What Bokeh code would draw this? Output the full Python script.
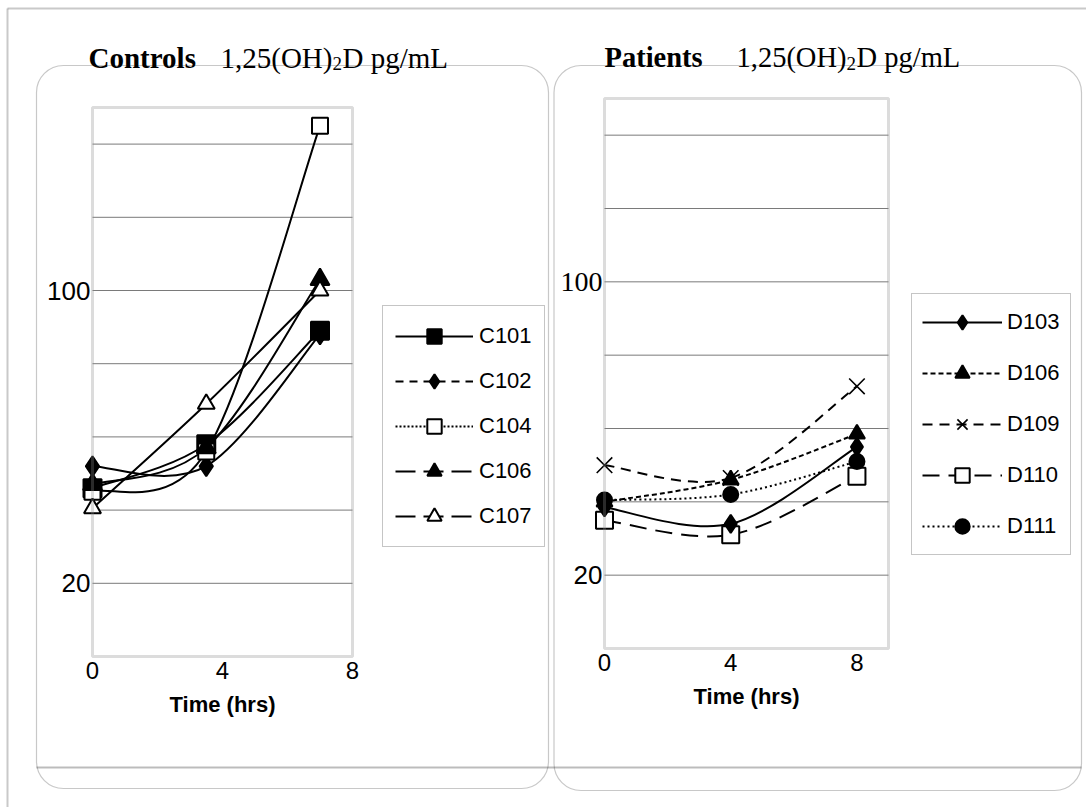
from bokeh.plotting import figure
from bokeh.models import (FixedTicker, Legend, LegendItem, BoxAnnotation, Label,
                          Range1d, ColumnDataSource, LinearAxis)
from bokeh.embed import file_html
from bokeh.resources import INLINE

SANS = "Liberation Sans"
SERIF = "Liberation Serif"
W, H = 1086, 807

# ---------------- data ----------------
control_times = [0, 3.5, 7]
patient_times = [0, 4, 8]
x_tick_values = [0, 4, 8]
y_label_values = [20, 100]
grid_values = [20, 40, 60, 80, 100, 120, 140]
y_min, y_max = 0, 150

c101 = [46, 58, 89]
c102 = [52, 52, 88]
c104 = [45, 56, 145]
c106 = [47, 57, 103]
c107 = [40.5, 69, 100]

d103 = [38.5, 34, 55]
d106 = [40, 46, 58.5]
d109 = [50, 46.5, 71.5]
d110 = [35, 31, 47]
d111 = [40.5, 42, 51]

control_names = ["C101", "C102", "C104", "C106", "C107"]
control_series = [c101, c102, c104, c106, c107]
patient_names = ["D103", "D106", "D109", "D110", "D111"]
patient_series = [d103, d106, d109, d110, d111]

# ---------------- styles ----------------
control_styles = [
    dict(marker="square", size=18, fill="black", legend_dash="solid"),
    dict(marker="diamond", size=20, fill="black", legend_dash="8 6"),
    dict(marker="square", size=16, fill="white", legend_dash="2 2"),
    dict(marker="triangle", size=19, fill="black", legend_dash="20 8"),
    dict(marker="triangle", size=17, fill="white", legend_dash="20 8"),
]
patient_styles = [
    dict(marker="diamond", size=18, fill="black", dash="solid"),
    dict(marker="triangle", size=16, fill="black", dash="5 3"),
    dict(marker="x", size=22, fill="black", dash="10 7"),
    dict(marker="square", size=17, fill="white", dash="17 9"),
    dict(marker="circle", size=15, fill="black", dash="2 3"),
]


def smooth_segments(xs, ys):
    """Catmull-Rom style smoothing (like a spreadsheet 'smoothed line')."""
    n = len(xs)
    cols = dict(x0=[], y0=[], x1=[], y1=[], cx0=[], cy0=[], cx1=[], cy1=[])
    for i in range(n - 1):
        a = max(i - 1, 0)
        d = min(i + 2, n - 1)
        cols["x0"].append(xs[i]); cols["y0"].append(ys[i])
        cols["x1"].append(xs[i + 1]); cols["y1"].append(ys[i + 1])
        cols["cx0"].append(xs[i] + (xs[i + 1] - xs[a]) / 6.0)
        cols["cy0"].append(ys[i] + (ys[i + 1] - ys[a]) / 6.0)
        cols["cx1"].append(xs[i + 1] - (xs[d] - xs[i]) / 6.0)
        cols["cy1"].append(ys[i + 1] - (ys[d] - ys[i]) / 6.0)
    return ColumnDataSource(cols)


# ---------------- page canvas (one frame = whole page, pixel units) ----------------
p = figure(width=W, height=H, x_range=Range1d(0, W), y_range=Range1d(0, H),
           min_border=0, x_axis_location=None, y_axis_location=None,
           output_backend="svg", toolbar_location=None,
           background_fill_color="white", border_fill_color="white")
p.outline_line_color = None
for g in p.grid:
    g.visible = False


def pbox(left, right, top, bottom, **kw):
    """Decoration box in page pixels (y measured downward)."""
    p.add_layout(BoxAnnotation(left=left, right=right, top=H - top,
                               bottom=H - bottom, fill_color=None,
                               fill_alpha=0, **kw))


def ptext(x, y, s, font, size, style="normal", align="left"):
    p.add_layout(Label(x=x, y=H - y, text=s, text_font=font,
                       text_font_size=f"{size}px", text_font_style=style,
                       text_align=align, text_baseline="alphabetic",
                       text_color="black"))


pbox(7, W, 8, 8, line_color="#4d4d4d", line_width=2)
pbox(7, 7, 8, H, line_color="#4d4d4d", line_width=2)
pbox(36, 548, 65, 788, line_color="#4a4a4a", line_width=1.2, border_radius=27)
pbox(553.5, 1081, 65, 790, line_color="#4a4a4a", line_width=1.2, border_radius=27)
pbox(36, 1081, 767, 767, line_color="#222222", line_width=2)

ptext(88, 57, "Controls", SERIF, 29, "bold")
ptext(220, 57, "1,25(OH)", SERIF, 29)
ptext(332, 63, "2", SERIF, 19)
ptext(342, 57, "D pg/mL", SERIF, 29)

ptext(604, 57, "Patients", SERIF, 28.5, "bold")
ptext(736, 57, "1,25(OH)", SERIF, 28.5)
ptext(846, 63, "2", SERIF, 19)
ptext(856, 57, "D pg/mL", SERIF, 28.5)


# ---------------- data panels (own ranges mapped onto a sub-area) ----------------
def add_panel(key, left, top, fw, fh, x_end):
    xs = x_end / fw
    ys = (y_max - y_min) / fh
    bottom = top + fh
    p.extra_x_ranges[key + "x"] = Range1d(0 - left * xs, x_end + (W - left - fw) * xs)
    p.extra_y_ranges[key + "y"] = Range1d(y_min - (H - bottom) * ys, y_max + top * ys)
    rn = dict(x_range_name=key + "x", y_range_name=key + "y")
    # horizontal grid lines
    p.segment(x0=[0] * len(grid_values), x1=[x_end] * len(grid_values),
              y0=grid_values, y1=grid_values, line_color="#7a7a7a",
              line_width=1, **rn)
    # plot-area outline
    p.add_layout(BoxAnnotation(left=0, right=x_end, bottom=y_min, top=y_max,
                               fill_color=None, fill_alpha=0,
                               line_color="#8a8a8a", line_width=3, **rn))
    # x axis
    xa = LinearAxis(ticker=FixedTicker(ticks=x_tick_values), fixed_location=y_min,
                    bounds=(0, x_end), axis_label="Time (hrs)", **rn)
    xa.axis_line_color = None
    xa.major_tick_line_color = None
    xa.minor_tick_line_color = None
    xa.major_tick_out = 0
    xa.major_tick_in = 0
    xa.major_label_text_font = SANS
    xa.major_label_text_font_size = "24px"
    xa.major_label_text_color = "black"
    xa.major_label_standoff = 5
    xa.axis_label_text_font = SANS
    xa.axis_label_text_font_style = "bold"
    xa.axis_label_text_font_size = "22px"
    xa.axis_label_text_color = "black"
    xa.axis_label_standoff = 10
    p.add_layout(xa, "below")
    return rn


def add_yaxis(rn, ticks, font, size):
    ya = LinearAxis(ticker=FixedTicker(ticks=ticks), fixed_location=0,
                    bounds=(y_min, y_max), **rn)
    ya.axis_line_color = None
    ya.major_tick_line_color = None
    ya.minor_tick_line_color = None
    ya.major_tick_out = 0
    ya.major_tick_in = 0
    ya.major_label_text_font = font
    ya.major_label_text_font_size = size
    ya.major_label_text_color = "black"
    ya.major_label_standoff = 2
    ya.major_label_text_baseline = "alphabetic"
    p.add_layout(ya, "left")


# Controls
rc = add_panel("c", 92, 107, 260, 549, 8)
add_yaxis(rc, y_label_values, SANS, "26px")
for ys in control_series:
    p.bezier(x0="x0", y0="y0", x1="x1", y1="y1", cx0="cx0", cy0="cy0",
             cx1="cx1", cy1="cy1", source=smooth_segments(control_times, ys),
             line_color="black", line_width=2, **rc)
c_markers = []
for ys, st in zip(control_series, control_styles):
    c_markers.append(p.scatter(control_times, ys, marker=st["marker"], size=st["size"],
                               fill_color=st["fill"], line_color="black",
                               line_width=2, **rc))

# Patients
rp = add_panel("p", 604, 98, 284, 550, 9)
add_yaxis(rp, [20], SANS, "26px")
add_yaxis(rp, [100], SERIF, "28px")
for ys, st in zip(patient_series, patient_styles):
    p.bezier(x0="x0", y0="y0", x1="x1", y1="y1", cx0="cx0", cy0="cy0",
             cx1="cx1", cy1="cy1", source=smooth_segments(patient_times, ys),
             line_color="black", line_width=2, line_dash=st["dash"], **rp)
p_markers = [None] * 5
for i in [3, 2, 4, 1, 0]:
    st = patient_styles[i]
    p_markers[i] = p.scatter(patient_times, patient_series[i], marker=st["marker"],
                             size=st["size"], fill_color=st["fill"],
                             line_color="black",
                             line_width=1.6 if st["marker"] == "x" else 2, **rp)

# ---------------- legends ----------------
# hidden line renderers carry each series' legend line style
c_items = []
for name, ys, st, mk in zip(control_names, control_series, control_styles, c_markers):
    lg = p.line(control_times, ys, line_color="black", line_width=2,
                line_dash=st["legend_dash"], visible=False, **rc)
    c_items.append(LegendItem(label=name, renderers=[lg, mk]))
p.add_layout(Legend(items=c_items, location=(382, H - 547), orientation="vertical",
                    glyph_width=78, glyph_height=36, label_height=36,
                    label_standoff=6, spacing=9, padding=12, margin=0,
                    label_text_font=SANS, label_text_font_size="22px",
                    label_text_color="black",
                    border_line_color="#8c8c8c", border_line_width=1,
                    background_fill_color="white", background_fill_alpha=1))

p_items = []
for name, ys, st, mk in zip(patient_names, patient_series, patient_styles, p_markers):
    lg = p.line(patient_times, ys, line_color="black", line_width=2,
                line_dash=st["dash"], visible=False, **rp)
    p_items.append(LegendItem(label=name, renderers=[lg, mk]))
p.add_layout(Legend(items=p_items, location=(911, H - 555), orientation="vertical",
                    glyph_width=80, glyph_height=36, label_height=36,
                    label_standoff=5, spacing=15, padding=10, margin=0,
                    label_text_font=SANS, label_text_font_size="22px",
                    label_text_color="black",
                    border_line_color="#8c8c8c", border_line_width=1,
                    background_fill_color="white", background_fill_alpha=1))

open("out.html", "w").write(file_html(p, INLINE))
